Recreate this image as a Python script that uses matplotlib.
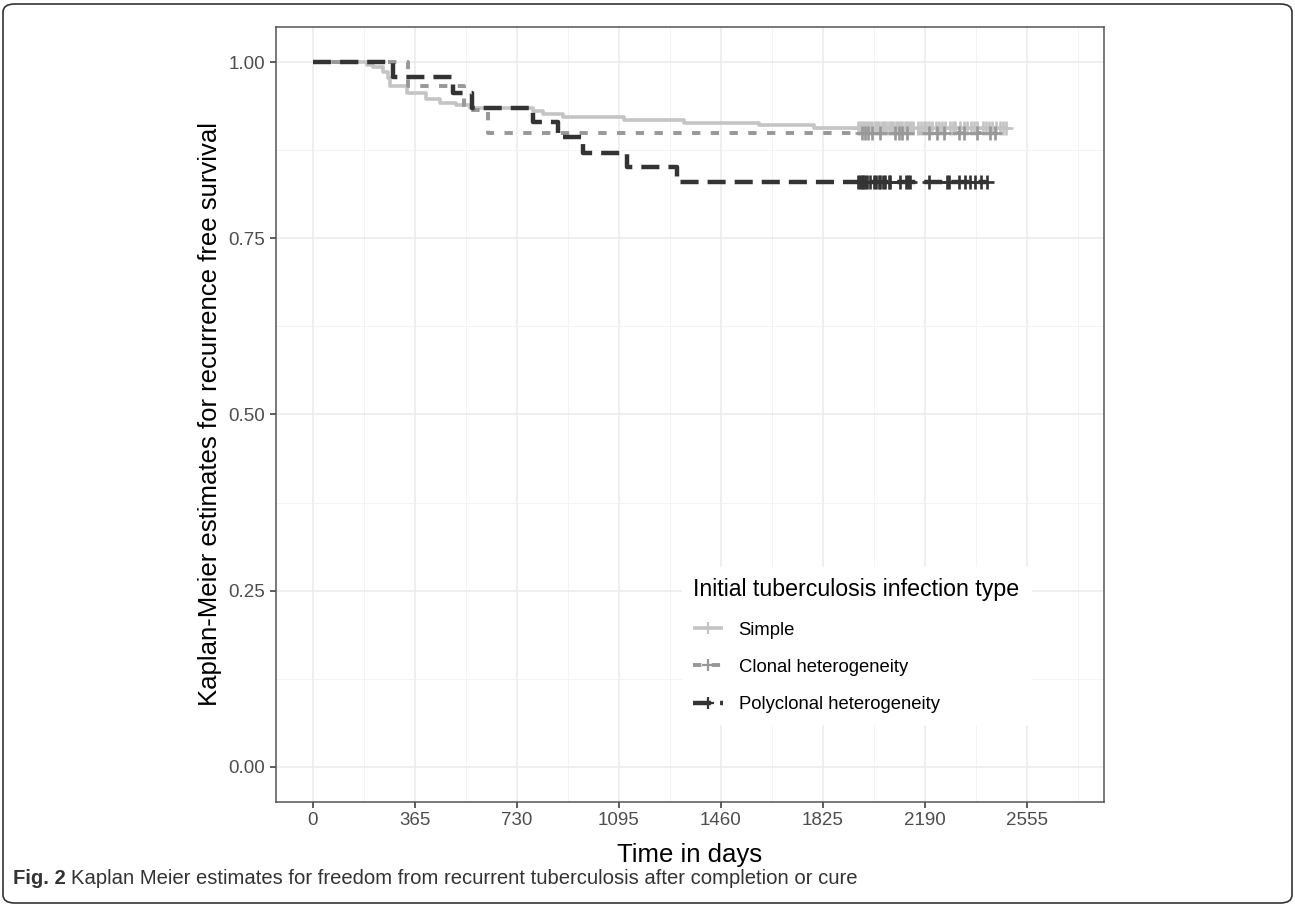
import numpy as np
import matplotlib as mpl
mpl.use('agg')
import matplotlib.pyplot as plt
from matplotlib.lines import Line2D
from matplotlib.patches import FancyBboxPatch

plt.rcParams['font.family'] = ['Liberation Sans', 'DejaVu Sans']
plt.rcParams['lines.scale_dashes'] = False

## step curves (day, survival)
simple_t = [0, 195, 215, 250, 268, 276, 338, 406, 454, 514, 562, 789, 825, 897, 1112, 1327, 1596, 1795, 2488]
simple_s = [1.0, 0.997, 0.993, 0.987, 0.978, 0.967, 0.956, 0.948, 0.943, 0.940, 0.935, 0.931, 0.927, 0.922, 0.918, 0.914, 0.911, 0.907, 0.907]

clonal_t = [0, 339, 540, 628, 2443]
clonal_s = [1.0, 0.967, 0.933, 0.900, 0.900]

poly_t = [0, 287, 503, 569, 789, 878, 968, 1124, 1303, 2414]
poly_s = [1.0, 0.979, 0.957, 0.936, 0.915, 0.894, 0.872, 0.851, 0.830, 0.830]

## censoring times
simple_cens = [1950, 1958, 1964, 1972, 1980, 1988, 1995, 2003, 2012, 2020, 2028, 2036, 2044,
               2052, 2062, 2070, 2078, 2086, 2094, 2102, 2110, 2118, 2126, 2134, 2142, 2150,
               2166, 2176, 2186, 2196, 2206, 2216, 2232, 2242, 2252, 2262, 2282, 2292, 2300,
               2318, 2330, 2340, 2356, 2366, 2376, 2398, 2410, 2420, 2432, 2446, 2458, 2470, 2482]
clonal_cens = [1966, 1977, 1989, 2001, 2031, 2085, 2097, 2109, 2127, 2204, 2234, 2258,
               2312, 2330, 2378, 2425, 2443]
poly_cens = [1953, 1960, 1966, 1971, 1977, 1983, 1995, 2007, 2017, 2026, 2031, 2041, 2049,
             2061, 2067, 2103, 2123, 2130, 2139, 2204, 2270, 2276, 2312, 2336, 2354, 2372,
             2390, 2414]

groups = ['Simple', 'Clonal heterogeneity', 'Polyclonal heterogeneity']
xticks = [0, 365, 730, 1095, 1460, 1825, 2190, 2555]
yticks = [0.00, 0.25, 0.50, 0.75, 1.00]

colors = ['#c4c4c4', '#989898', '#333333']
styles = [(0, ()), (0, (6, 7.5)), (0, (13, 6.5))]
widths = [2.6, 2.8, 3.2]

fig = plt.figure(figsize=(12.95, 9.06), dpi=100)
ax = fig.add_axes([0.2129, 0.1151, 0.6396, 0.8548])

data = [(simple_t, simple_s, simple_cens),
        (clonal_t, clonal_s, clonal_cens),
        (poly_t, poly_s, poly_cens)]

for (t, s, c), col, ls, w in zip(data, colors, styles, widths):
    ax.step(t, s, where='post', color=col, lw=w, linestyle=ls, zorder=3)
    cy = np.interp(c, t, s)
    ax.plot(c, cy, ls='none', marker='+', ms=10, mew=1.9, color=col, zorder=4)

ax.set_xlim(-133, 2832)
ax.set_ylim(-0.05, 1.05)
ax.set_xticks(xticks)
ax.set_xticklabels([str(v) for v in xticks])
ax.set_yticks(yticks)
ax.set_yticklabels(['%.2f' % v for v in yticks])
ax.set_xticks([182.5 + 365 * i for i in range(8)], minor=True)
ax.set_yticks([0.125, 0.375, 0.625, 0.875], minor=True)
ax.grid(which='major', color='#ebebeb', lw=1.1, zorder=0)
ax.grid(which='minor', color='#f3f3f3', lw=0.7, zorder=0)
ax.set_axisbelow(True)
ax.tick_params(axis='both', which='major', length=4.5, width=1.1, color='#333333',
               labelsize=13.5, labelcolor='#4d4d4d', pad=3)
ax.tick_params(axis='both', which='minor', length=0)
for sp in ax.spines.values():
    sp.set_color('#555555')
    sp.set_linewidth(1.1)

ax.set_xlabel('Time in days', fontsize=18.5, labelpad=10)
ax.set_ylabel('Kaplan-Meier estimates for recurrence free survival', fontsize=18.5, labelpad=5)

handles = [Line2D([], [], color=col, lw=w, linestyle=ls, marker='+', ms=8, mew=1.6)
           for col, ls, w in zip(colors, styles, widths)]
leg = ax.legend(handles, groups, title='Initial tuberculosis infection type',
                loc='upper left', bbox_to_anchor=(673 / 1295, 1 - 558 / 906),
                bbox_transform=fig.transFigure, frameon=True, fontsize=13.3,
                title_fontsize=16.7, alignment='left', handlelength=1.6,
                handletextpad=0.85, labelspacing=1.1, borderpad=0.6, fancybox=False)
leg.get_frame().set_edgecolor('white')
leg.get_frame().set_facecolor('white')
leg.get_frame().set_alpha(1)

## outer frame of the journal figure
frame = FancyBboxPatch((3 / 1295, 3 / 906), 1289 / 1295, 899 / 906,
                       boxstyle='round,pad=0,rounding_size=0.009',
                       transform=fig.transFigure, fill=False,
                       edgecolor='#333333', lw=1.2)
fig.patches.append(frame)

## caption
cap_font = ['Liberation Sans', 'DejaVu Sans']
t1 = fig.text(13 / 1295, 1 - 884 / 906, 'Fig. 2', fontsize=14.6, fontweight='bold',
              family=cap_font, color='#333333', va='baseline')
fig.canvas.draw()
bb = t1.get_window_extent()
fig.text((bb.x1 + 5) / 1295, 1 - 884 / 906,
         'Kaplan Meier estimates for freedom from recurrent tuberculosis after completion or cure',
         fontsize=14.6, family=cap_font, color='#333333', va='baseline')

fig.savefig('out.png', dpi=100)
